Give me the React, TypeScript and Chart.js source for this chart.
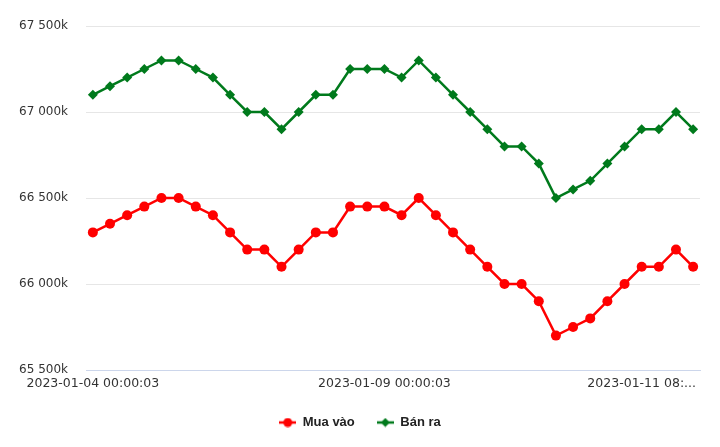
import React, { useEffect, useRef } from "react";
import { Chart, registerables } from "chart.js";

Chart.register(...registerables);

const muaVao = [
  66300, 66350, 66400, 66450, 66500, 66500, 66450, 66400, 66300, 66200, 66200, 66100,
  66200, 66300, 66300, 66450, 66450, 66450, 66400, 66500, 66400, 66300, 66200, 66100,
  66000, 66000, 65900, 65700, 65750, 65800, 65900, 66000, 66100, 66100, 66200, 66100,
];
const banRa = [
  67100, 67150, 67200, 67250, 67300, 67300, 67250, 67200, 67100, 67000, 67000, 66900,
  67000, 67100, 67100, 67250, 67250, 67250, 67200, 67300, 67200, 67100, 67000, 66900,
  66800, 66800, 66700, 66500, 66550, 66600, 66700, 66800, 66900, 66900, 67000, 66900,
];
const xTickIndex = [0, 17, 32];
const xTickLabels = ["2023-01-04 00:00:03", "2023-01-09 00:00:03", "2023-01-11 08:..."];
const yTicks = [65500, 66000, 66500, 67000, 67500];
const seriesNames = ["Mua vào", "Bán ra"];

const RED = "#ff0000";
const GREEN = "#007a1c";
const FONT = "'DejaVu Sans', Verdana, sans-serif";
const LEGEND_FONT = "'Liberation Sans', Arial, sans-serif";

function legendIcon(color: string, shape: "circle" | "diamond"): HTMLCanvasElement {
  const c = document.createElement("canvas");
  c.width = 17;
  c.height = 10;
  const ctx = c.getContext("2d")!;
  ctx.strokeStyle = color;
  ctx.fillStyle = color;
  ctx.lineWidth = 2.5;
  ctx.beginPath();
  ctx.moveTo(0, 5);
  ctx.lineTo(17, 5);
  ctx.stroke();
  ctx.beginPath();
  if (shape === "circle") {
    ctx.arc(8.5, 5, 4.5, 0, Math.PI * 2);
  } else {
    ctx.moveTo(8.5, 0.5);
    ctx.lineTo(13, 5);
    ctx.lineTo(8.5, 9.5);
    ctx.lineTo(4, 5);
    ctx.closePath();
  }
  ctx.fill();
  return c;
}

function formatY(v: number): string {
  const s = String(Math.round(v));
  return s.slice(0, s.length - 3) + " " + s.slice(s.length - 3) + "k";
}

export default function App() {
  const ref = useRef<HTMLCanvasElement | null>(null);

  useEffect(() => {
    if (!ref.current) return;
    const icons = [legendIcon(RED, "circle"), legendIcon(GREEN, "diamond")];
    const colors = [RED, GREEN];
    const chart = new Chart(ref.current, {
      type: "line",
      data: {
        datasets: [
          {
            label: seriesNames[0],
            data: muaVao.map((y, i) => ({ x: i, y })),
            borderColor: RED,
            backgroundColor: RED,
            borderWidth: 2.5,
            pointStyle: "circle",
            pointRadius: 5,
            pointBorderWidth: 0,
            tension: 0,
          },
          {
            label: seriesNames[1],
            data: banRa.map((y, i) => ({ x: i, y })),
            borderColor: GREEN,
            backgroundColor: GREEN,
            borderWidth: 2.5,
            pointStyle: "rectRot",
            pointRadius: 5,
            pointBorderWidth: 0,
            tension: 0,
          },
        ],
      },
      options: {
        animation: false,
        responsive: false,
        maintainAspectRatio: false,
        layout: { padding: { top: 26, right: 0, bottom: 8, left: 0 } },
        plugins: {
          tooltip: { enabled: false },
          legend: {
            position: "bottom",
            labels: {
              usePointStyle: true,
              pointStyleWidth: 17,
              padding: 22,
              color: "#222222",
              font: { family: LEGEND_FONT, size: 13, weight: "bold" },
              generateLabels: () =>
                seriesNames.map((name, i) => ({
                  text: name,
                  pointStyle: icons[i] as any,
                  fillStyle: colors[i],
                  strokeStyle: colors[i],
                  lineWidth: 0,
                  datasetIndex: i,
                  fontColor: "#222222",
                  hidden: false,
                })),
            },
          },
        },
        scales: {
          x: {
            type: "linear",
            min: -0.4,
            max: 35.4,
            afterBuildTicks: (scale: any) => {
              scale.ticks = xTickIndex.map((v) => ({ value: v }));
            },
            afterFit: (scale: any) => {
              scale.height = 24;
            },
            grid: { display: false, drawTicks: false },
            border: { display: true, color: "#ccd6eb", width: 1 },
            ticks: {
              autoSkip: false,
              maxRotation: 0,
              padding: 6,
              color: "#333333",
              font: { family: FONT, size: 12.5 },
              callback: (v: any) => {
                const idx = xTickIndex.indexOf(Number(v));
                return idx >= 0 ? xTickLabels[idx] : "";
              },
            },
          },
          y: {
            min: 65500,
            max: 67500,
            afterBuildTicks: (scale: any) => {
              scale.ticks = yTicks.map((v) => ({ value: v }));
            },
            afterFit: (scale: any) => {
              scale.width = 86;
            },
            grid: { color: "#e6e6e6", drawTicks: false, lineWidth: 1 },
            border: { display: false },
            ticks: {
              padding: 18,
              color: "#333333",
              font: { family: FONT, size: 12 },
              callback: (v: any) => formatY(Number(v)),
            },
          },
          yRight: {
            position: "right",
            display: true,
            min: 65500,
            max: 67500,
            afterFit: (scale: any) => {
              scale.width = 20;
            },
            grid: { display: false, drawTicks: false },
            border: { display: false },
            ticks: { display: false },
          },
        },
      },
    });
    return () => chart.destroy();
  }, []);

  return (
    <div style={{ position: "fixed", left: 0, top: 0, width: 720, height: 447, background: "#fff" }}>
      <canvas ref={ref} width={720} height={447} style={{ width: 720, height: 447, display: "block" }} />
    </div>
  );
}
